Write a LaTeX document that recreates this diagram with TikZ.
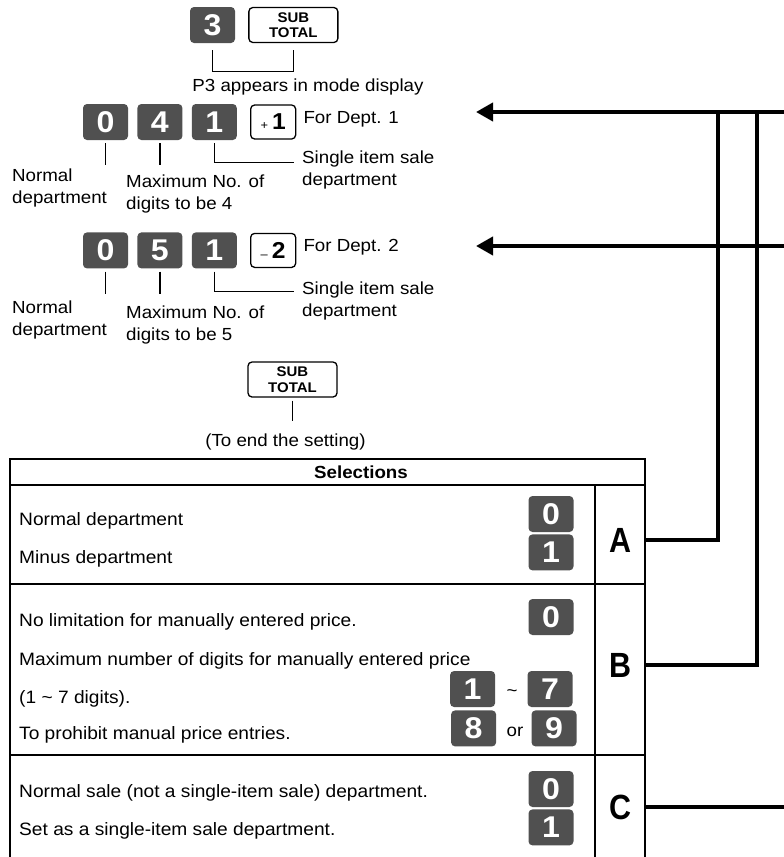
\documentclass[tikz,border=0pt]{standalone}
\usepackage{fontspec}
\setmainfont[FakeStretch=1.07]{Liberation Sans}
\newfontfamily\condfont[FakeStretch=0.87]{Liberation Sans}
\usetikzlibrary{arrows.meta,positioning}
\definecolor{keygray}{RGB}{80,80,80}

\begin{document}
\begin{tikzpicture}[
    x=1pt, y=-1pt,
    node distance=9pt,
    numkey/.style={
        fill=keygray, rounded corners=4pt, inner sep=0pt,
        minimum width=45pt, minimum height=36pt,
        text=white, font=\bfseries\fontsize{30}{30}\selectfont
    },
    fnkey/.style={
        draw, line width=1.3pt, rounded corners=4pt, inner sep=0pt,
        minimum width=45pt, minimum height=34pt, align=center
    },
    subkey/.style={
        fnkey, minimum width=89pt, minimum height=35pt,
        font=\bfseries\fontsize{14}{15.5}\selectfont
    },
    lbl/.style={
        inner sep=0pt, align=left, font=\fontsize{17.5}{22}\selectfont
    },
    rowtext/.style={
        inner sep=0pt, anchor=base west, font=\fontsize{17.9}{22}\selectfont
    },
    selcell/.style={
        inner sep=0pt, minimum width=50pt,
        font=\condfont\bfseries\fontsize{35}{35}\selectfont
    },
    leader/.style={line width=1.2pt},
    grid/.style={line width=1.6pt},
    flow/.style={line width=4pt},
]

\useasboundingbox (0,0) rectangle (784,857);

% ── Mode keys ──
\node[numkey] (key3) at (212.5,25) {3};
\node[subkey, right=13pt of key3] (subtot) {SUB\\TOTAL};
\draw[leader] ([yshift=-7pt]key3.south) -- ++(0,21) -| ([yshift=-7pt]subtot.south);
\node[lbl, anchor=north] (p3) at (308,78.5) {P3 appears in mode display};

% ── Dept. 1 ──
\node[numkey] (dig0a) at (105.5,122) {0};
\node[numkey, right=of dig0a] (dig4) {4};
\node[numkey, right=of dig4] (dig1a) {1};
\node[fnkey, right=13pt of dig1a] (plus1) {{\fontsize{12}{12}\selectfont +}\hspace{4pt}{\bfseries\fontsize{23}{23}\selectfont 1}};
\node[lbl, right=7pt of plus1, yshift=3pt] (dept1) {For Dept. 1};

\draw[leader] ([yshift=-3pt]dig0a.south) -- ++(0,22);
\draw[leader] ([yshift=-3pt]dig4.south) -- ++(0,22);
\draw[leader] ([yshift=-3pt]dig1a.south) -- ++(0,19) -- ++(80,0);

\node[lbl, anchor=north west] (norm1) at (12,168.5) {Normal\\department};
\node[lbl, anchor=north west] (max1) at (126,174.5) {Maximum No. of\\digits to be 4};
\node[lbl, anchor=north west] (sale1) at (302,150.5) {Single item sale\\department};

% ── Dept. 2 ──
\node[numkey, below=92pt of dig0a] (dig0b) {0};
\node[numkey, right=of dig0b] (dig5) {5};
\node[numkey, right=of dig5] (dig1b) {1};
\node[fnkey, right=13pt of dig1b] (minus2) {{\fontsize{12}{12}\selectfont --}\hspace{4pt}{\bfseries\fontsize{23}{23}\selectfont 2}};
\node[lbl, right=7pt of minus2, yshift=3pt] (dept2) {For Dept. 2};

\draw[leader] ([yshift=-3pt]dig0b.south) -- ++(0,22);
\draw[leader] ([yshift=-3pt]dig5.south) -- ++(0,22);
\draw[leader] ([yshift=-3pt]dig1b.south) -- ++(0,20) -- ++(80,0);

\node[lbl, anchor=north west] (norm2) at (12,301) {Normal\\department};
\node[lbl, anchor=north west] (max2) at (126,305.5) {Maximum No. of\\digits to be 5};
\node[lbl, anchor=north west] (sale2) at (302,281.5) {Single item sale\\department};

% ── End of setting ──
\node[subkey] (subend) at (292.5,379.5) {SUB\\TOTAL};
\draw[leader] ([yshift=-3pt]subend.south) -- ++(0,20);
\node[lbl, below=36pt of subend, xshift=-7pt] (endset) {(To end the setting)};

% ── Selections table ──
\draw[grid, line width=2pt] (10,860) -- (10,459) -- (645,459) -- (645,860);
\draw[grid] (10,485) -- (645,485);
\draw[grid] (595,485) -- (595,860);
\draw[grid] (10,584) -- (645,584);
\draw[grid] (10,755) -- (645,755);
\node[font=\bfseries\fontsize{17.5}{17.5}\selectfont] (selhead) at (361,472) {Selections};

\node[rowtext] (txtA0) at (19,525) {Normal department};
\node[rowtext] (txtA1) at (19,563) {Minus department};
\node[numkey] (keyA0) at (551,514) {0};
\node[numkey, below=2pt of keyA0] (keyA1) {1};
\node[selcell] (selA) at (620,540) {A};

\node[rowtext] (txtB0) at (19,626) {No limitation for manually entered price.};
\node[rowtext] (txtB1) at (19,665) {Maximum number of digits for manually entered price};
\node[rowtext] (txtB2) at (19,703) {(1 \textasciitilde\ 7 digits).};
\node[rowtext] (txtB3) at (19,739) {To prohibit manual price entries.};
\node[numkey] (keyB0) at (551,617) {0};
\node[numkey] (keyB7) at (550,689) {7};
\node[numkey, left=32pt of keyB7] (keyB1) {1};
\node[numkey, below=3pt of keyB7, xshift=4pt] (keyB9) {9};
\node[numkey, left=35pt of keyB9] (keyB8) {8};
\node[lbl] (tilde) at (512,693) {\textasciitilde};
\node[lbl] (orword) at (515,732) {or};
\node[selcell] (selB) at (620,665) {B};

\node[rowtext] (txtC0) at (19,797) {Normal sale (not a single-item sale) department.};
\node[rowtext] (txtC1) at (19,835) {Set as a single-item sale department.};
\node[numkey] (keyC0) at (551,789) {0};
\node[numkey, below=2pt of keyC0] (keyC1) {1};
\node[selcell] (selC) at (620,807) {C};

% ── Flow lines ──
\coordinate (edge1) at (790,112);
\coordinate (tip1) at (476,112);
\coordinate (edge2) at (790,246);
\coordinate (tip2) at (476,246);
\coordinate (joinA) at (718,112);
\coordinate (joinB) at (757,112);
\coordinate (edgeC) at (790,807);

\draw[flow, -{Triangle[length=17pt, width=18pt]}] (edge1) -- (tip1);
\draw[flow, -{Triangle[length=17pt, width=18pt]}] (edge2) -- (tip2);
\draw[flow] (selA.east) -| (joinA);
\draw[flow] (selB.east) -| (joinB);
\draw[flow] (selC.east) -- (edgeC);

\end{tikzpicture}
\end{document}
